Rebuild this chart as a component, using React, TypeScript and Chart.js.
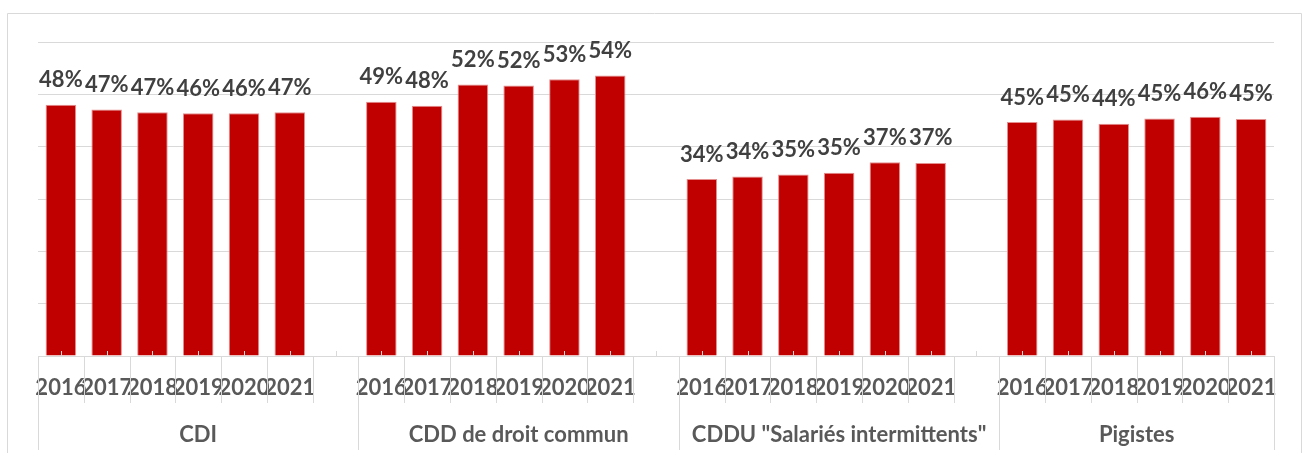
import React, { useEffect, useRef } from 'react';
import { Chart, registerables } from 'chart.js';

Chart.register(...registerables);

const years = ['2016', '2017', '2018', '2019', '2020', '2021'];
const groups = ['CDI', 'CDD de droit commun', 'CDDU "Salariés intermittents"', 'Pigistes'];
const cdi = [48.0, 47.1, 46.6, 46.4, 46.4, 46.6];
const cdd = [48.6, 47.8, 51.9, 51.7, 52.9, 53.6];
const cddu = [33.8, 34.3, 34.7, 35.0, 37.0, 36.9];
const pigistes = [44.7, 45.2, 44.4, 45.4, 45.7, 45.3];
const seriesByGroup = [cdi, cdd, cddu, pigistes];
const yMin = 0;
const yMax = 60;
const yStep = 10;

const FONT = "Lato, 'Open Sans', sans-serif";
const GRID = '#d9d9d9';
const BAR = '#C00000';

export default function App() {
  const ref = useRef<HTMLCanvasElement>(null);

  useEffect(() => {
    const labels: string[] = [];
    const values: (number | null)[] = [];
    const groupStart: number[] = [];
    const groupSpan: number[] = [];
    seriesByGroup.forEach((s, g) => {
      groupStart.push(labels.length);
      years.forEach((y, i) => {
        labels.push(y);
        values.push(s[i]);
      });
      let span = years.length;
      if (g < seriesByGroup.length - 1) {
        labels.push('');
        values.push(null);
        span++;
      }
      groupSpan.push(span);
    });
    const n = labels.length;

    const overlay = {
      id: 'overlay',
      afterDraw(chart: any) {
        const ctx = chart.ctx;
        const x = chart.scales.x;
        const base = chart.chartArea.bottom;
        const step = x.width / n;
        const boundary = (i: number) => x.left + i * step;
        const crisp = (v: number) => Math.round(v) + 0.5;
        ctx.save();
        // outer border
        ctx.strokeStyle = GRID;
        ctx.lineWidth = 1;
        ctx.beginPath();
        ctx.moveTo(7.5, 470);
        ctx.lineTo(7.5, 13.5);
        ctx.lineTo(1301.5, 13.5);
        ctx.lineTo(1301.5, 470);
        ctx.stroke();
        // small inner ticks at category centres
        ctx.beginPath();
        for (let i = 0; i < n; i++) {
          const px = crisp(x.getPixelForValue(i));
          ctx.moveTo(px, base - 5);
          ctx.lineTo(px, base);
        }
        ctx.stroke();
        // separators below axis
        const longIdx = new Set<number>([...groupStart, n]);
        ctx.beginPath();
        for (let i = 0; i <= n; i++) {
          const px = crisp(boundary(i));
          ctx.moveTo(px, base);
          ctx.lineTo(px, longIdx.has(i) ? 450 : 403);
        }
        ctx.stroke();
        // group labels
        ctx.fillStyle = '#595959';
        ctx.font = `bold 22px ${FONT}`;
        ctx.textAlign = 'center';
        ctx.textBaseline = 'alphabetic';
        groups.forEach((g, k) => {
          const cx = (boundary(groupStart[k]) + boundary(groupStart[k] + groupSpan[k])) / 2;
          ctx.fillText(g, cx, 441.5);
        });
        ctx.restore();
      },
      afterDatasetsDraw(chart: any) {
        const ctx = chart.ctx;
        const meta = chart.getDatasetMeta(0);
        ctx.save();
        ctx.fillStyle = '#404040';
        ctx.font = `bold 22px ${FONT}`;
        ctx.textAlign = 'center';
        ctx.textBaseline = 'alphabetic';
        meta.data.forEach((el: any, i: number) => {
          const v = values[i];
          if (v == null) return;
          ctx.fillText(`${Math.round(v)}%`, el.x, el.y - 17.5);
        });
        ctx.restore();
      },
    };

    const chart = new Chart(ref.current!, {
      type: 'bar',
      data: {
        labels,
        datasets: [
          {
            data: values,
            backgroundColor: BAR,
            borderColor: '#E58F8F',
            borderWidth: 1,
            barPercentage: 0.667,
            categoryPercentage: 1,
          },
        ],
      },
      options: {
        animation: false,
        responsive: false,
        devicePixelRatio: 1,
        layout: { padding: { left: 38, right: 30, top: 42, bottom: 0 } },
        plugins: {
          legend: { display: false },
          title: { display: false },
          tooltip: { enabled: false },
        },
        scales: {
          x: {
            grid: { display: false },
            border: { display: true, color: GRID, width: 1 },
            ticks: {
              autoSkip: false,
              maxRotation: 0,
              minRotation: 0,
              color: '#595959',
              padding: 13,
              font: { family: FONT, size: 22, weight: 'bold', lineHeight: 1 },
            },
            afterFit: (s: any) => {
              s.height = 97;
            },
          },
          y: {
            min: yMin,
            max: yMax,
            ticks: { display: false, stepSize: yStep },
            grid: { color: GRID, drawTicks: false, lineWidth: 1 },
            border: { display: false },
          },
        },
      },
      plugins: [overlay],
    } as any);
    return () => chart.destroy();
  }, []);

  return (
    <div style={{ position: 'absolute', left: 0, top: 0, width: 1304, height: 453 }}>
      <canvas ref={ref} width={1304} height={453} style={{ display: 'block' }} />
    </div>
  );
}
